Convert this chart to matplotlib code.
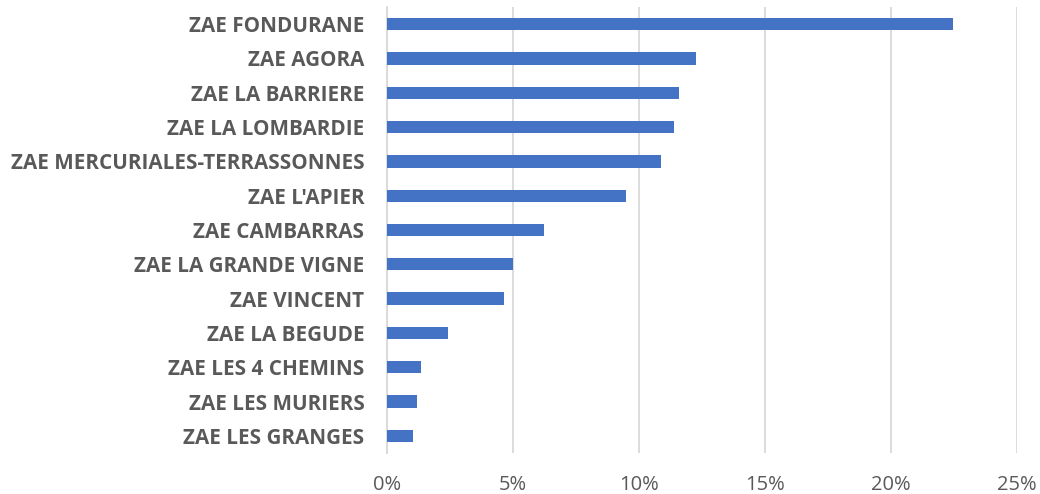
import matplotlib.pyplot as plt
from matplotlib.ticker import FuncFormatter, MultipleLocator

zones = [
    'ZAE FONDURANE', 'ZAE AGORA', 'ZAE LA BARRIERE', 'ZAE LA LOMBARDIE',
    'ZAE MERCURIALES-TERRASSONNES', "ZAE L'APIER", 'ZAE CAMBARRAS',
    'ZAE LA GRANDE VIGNE', 'ZAE VINCENT', 'ZAE LA BEGUDE',
    'ZAE LES 4 CHEMINS', 'ZAE LES MURIERS', 'ZAE LES GRANGES',
]
shares = [22.48, 12.26, 11.59, 11.41, 10.88, 9.51, 6.23, 5.01, 4.67, 2.42, 1.37, 1.21, 1.03]

plt.rcParams['font.family'] = ['Open Sans', 'DejaVu Sans']

fig = plt.figure(figsize=(10.4, 4.94), dpi=100)
ax = fig.add_axes([0.3718, 0.083, 0.6058, 0.9028])

ypos = list(range(len(zones)))
ax.barh(ypos, shares, height=0.36, color='#4472C4', zorder=3)
ax.set_ylim(len(zones) - 0.5, -0.5)
ax.set_xlim(0, 25)
ax.set_yticks(ypos)
ax.set_yticklabels(zones, fontsize=14.85, fontweight='bold', color='#595959')
ax.xaxis.set_major_locator(MultipleLocator(5))
ax.xaxis.set_major_formatter(FuncFormatter(lambda v, p: '%d%%' % v))
ax.tick_params(axis='x', labelsize=14.5, colors='#595959', length=0, pad=16)
ax.tick_params(axis='y', length=0, pad=16)
ax.grid(axis='x', color='#D9D9D9', linewidth=1.3, zorder=0)
for s in ['top', 'right', 'bottom']:
    ax.spines[s].set_visible(False)
ax.spines['left'].set_color('#D9D9D9')
ax.spines['left'].set_linewidth(1.3)

plt.savefig('out.png', dpi=100)
